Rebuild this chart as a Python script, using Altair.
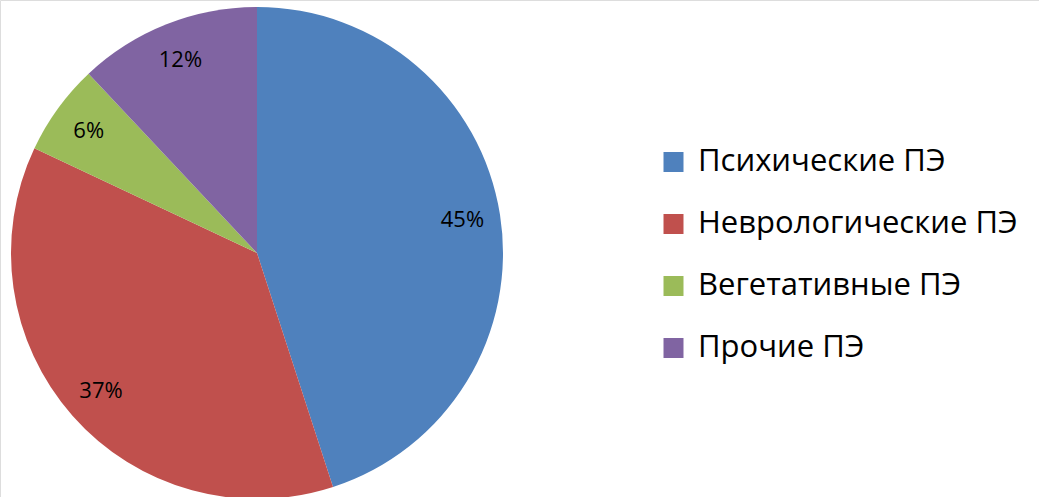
import altair as alt
import pandas as pd

categories = ["Психические ПЭ", "Неврологические ПЭ", "Вегетативные ПЭ", "Прочие ПЭ"]
values = [45, 37, 6, 12]
labels = ["45%", "37%", "6%", "12%"]
colors = ["#4F81BD", "#C0504D", "#9BBB59", "#8064A2"]

df = pd.DataFrame({"cat": categories, "value": values, "label": labels, "order": list(range(len(values)))})

base = alt.Chart(df).encode(
    theta=alt.Theta("value:Q", stack=True),
    order=alt.Order("order:Q"),
    x=alt.value(257),
    y=alt.value(253),
)

arcs = base.mark_arc(outerRadius=246).encode(
    color=alt.Color(
        "cat:N",
        sort=categories,
        scale=alt.Scale(domain=categories, range=colors),
        legend=alt.Legend(
            title=None,
            orient="none",
            legendX=658,
            legendY=146.5,
            symbolType="square",
            symbolSize=400,
            symbolStrokeWidth=0,
            labelFont="Open Sans",
            labelFontSize=31,
            labelColor="#000000",
            labelOffset=9,
            rowPadding=30,
            labelLimit=500,
        ),
    )
)

text = base.mark_text(radius=208, font="Open Sans", fontSize=22, color="#000000", align="center", baseline="middle").encode(
    text="label:N"
)

chart = (
    (arcs + text)
    .properties(width=1039, height=497, autosize=alt.AutoSizeParams(type="none"), padding=0)
    .configure_view(stroke=None)
    .configure(background="#FFFFFF")
)

chart.save("out.html", embed_options={"renderer": "svg", "actions": False})
